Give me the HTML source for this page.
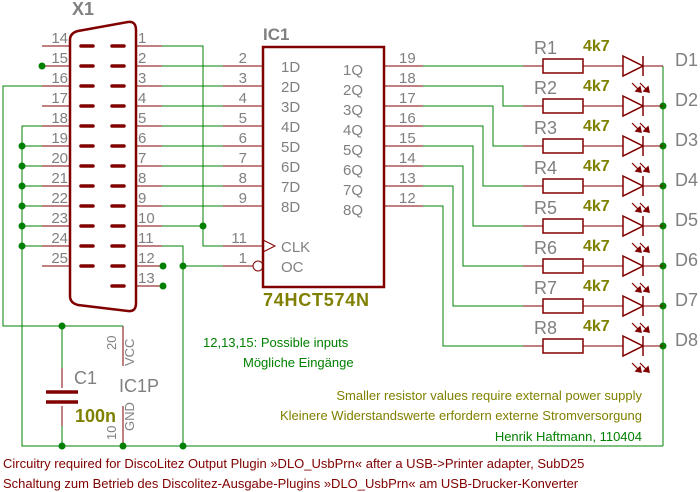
<!DOCTYPE html>
<html><head><meta charset="utf-8"><style>
html,body{margin:0;padding:0;background:#fff}
svg{display:block}
text{font-family:"Liberation Sans",sans-serif}
</style></head><body>
<svg width="700" height="492" viewBox="0 0 700 492" xmlns="http://www.w3.org/2000/svg">
<g fill="none" stroke-width="1.3">
<path d="M70,40 Q70,33 78,31 L128,22 Q136,21 136,30 L136,303 Q136,312 128,311 L78,305 Q70,303 70,296 Z" stroke="#800000" stroke-width="2.5"/>
</g>
<g stroke="#800000" stroke-width="3.5" stroke-linecap="round">
<path d="M81,46h12M81,66h12M81,86h12M81,106h12M81,126h12M81,146h12M81,166h12M81,186h12M81,206h12M81,226h12M81,246h12M81,266h12"/>
<path d="M112,46h12M112,66h12M112,86h12M112,106h12M112,126h12M112,146h12M112,166h12M112,186h12M112,206h12M112,226h12M112,246h12M112,266h12M112,286h12"/>
</g>
<g stroke="#800000" stroke-width="1" fill="none">
<path d="M42,46h28M42,66h28M42,86h28M42,106h28M42,126h28M42,146h28M42,166h28M42,186h28M42,206h28M42,226h28M42,246h28M42,266h28"/>
<path d="M136,46h26M136,66h26M136,86h26M136,106h26M136,126h26M136,146h26M136,166h26M136,186h26M136,206h26M136,226h26M136,246h26M136,266h26M136,286h26"/>
<path d="M223,66h40M223,86h40M223,106h40M223,126h40M223,146h40M223,166h40M223,186h40M223,206h40M223,246h40M223,266h30"/>
<circle cx="258" cy="266" r="5"/>
<path d="M263,240l12,6l-12,6"/>
<rect x="263" y="47" width="121" height="240" stroke-width="2.5"/>
<path d="M384,66h39M384,86h39M384,106h39M384,126h39M384,146h39M384,166h39M384,186h39M384,206h39"/>
<path d="M123,326v40M123,406v40"/>
<path d="M62,368v20M62,406v20"/>
</g>
<g stroke="#800000" stroke-width="3.5"><path d="M46,392h32M46,402h32"/></g>
<g stroke="#008000" stroke-width="1" fill="none">
<path d="M162,46h41v200h20"/>
<path d="M162,66h61M162,86h61M162,106h61M162,126h61M162,146h61M162,166h61M162,186h61M162,206h61M162,226h41"/>
<path d="M162,246h21v200"/>
<path d="M183,266h40"/>
<path d="M42,86h-39v240h120"/>
<path d="M42,126h-20v320h641"/>
<path d="M22,146h20M22,166h20M22,186h20M22,206h20M22,226h20M22,246h20"/>
<path d="M62,326v42M62,426v20"/>
<path d="M423,66h100"/>
<path d="M423,86h80v20h20"/>
<path d="M423,106h70v40h30"/>
<path d="M423,126h60v60h40"/>
<path d="M423,146h50v80h50"/>
<path d="M423,166h40v100h60"/>
<path d="M423,186h30v120h70"/>
<path d="M423,206h20v140h80"/>
<path d="M663,66v380"/>
</g>
<g fill="#008000">
<circle cx="42" cy="66" r="3.5"/><circle cx="203" cy="226" r="3.5"/>
<circle cx="163" cy="266" r="3.5"/><circle cx="163" cy="286" r="3.5"/><circle cx="183" cy="266" r="3.5"/>
<circle cx="22" cy="146" r="3.5"/><circle cx="22" cy="166" r="3.5"/><circle cx="22" cy="186" r="3.5"/><circle cx="22" cy="206" r="3.5"/><circle cx="22" cy="226" r="3.5"/><circle cx="22" cy="246" r="3.5"/>
<circle cx="62" cy="326" r="3.5"/><circle cx="62" cy="446" r="3.5"/><circle cx="123" cy="446" r="3.5"/><circle cx="183" cy="446" r="3.5"/>
<circle cx="663" cy="106" r="3.5"/><circle cx="663" cy="146" r="3.5"/><circle cx="663" cy="186" r="3.5"/><circle cx="663" cy="226" r="3.5"/><circle cx="663" cy="266" r="3.5"/><circle cx="663" cy="306" r="3.5"/><circle cx="663" cy="346" r="3.5"/>
</g>
<defs>
<g id="rl">
<path d="M523,0h20M583,0h40M643,0h20" stroke="#800000" stroke-width="1" fill="none"/>
<rect x="543" y="-7" width="40" height="14" stroke="#800000" stroke-width="1.5" fill="none"/>
<path d="M623,-10L643,0L623,10Z M643,-10v20" stroke="#800000" stroke-width="1.5" fill="none"/>
<path d="M632,17l8,8M640,17l8,8" stroke="#800000" stroke-width="1.2"/>
<path d="M641,26l-5,-1l4,-4zM649,26l-5,-1l4,-4z" fill="#800000" stroke="#800000" stroke-width="1.5"/>
</g>
</defs>
<use href="#rl" y="66"/><use href="#rl" y="106"/><use href="#rl" y="146"/><use href="#rl" y="186"/>
<use href="#rl" y="226"/><use href="#rl" y="266"/><use href="#rl" y="306"/><use href="#rl" y="346"/>
<g fill="#808080" font-size="15">
<text x="72" y="15" font-size="18" font-weight="bold">X1</text>
<g text-anchor="end">
<text x="68" y="43">14</text><text x="68" y="63">15</text><text x="68" y="83">16</text><text x="68" y="103">17</text><text x="68" y="123">18</text><text x="68" y="143">19</text><text x="68" y="163">20</text><text x="68" y="183">21</text><text x="68" y="203">22</text><text x="68" y="223">23</text><text x="68" y="243">24</text><text x="68" y="263">25</text>
<text x="247" y="63">2</text><text x="247" y="83">3</text><text x="247" y="103">4</text><text x="247" y="123">5</text><text x="247" y="143">6</text><text x="247" y="163">7</text><text x="247" y="183">8</text><text x="247" y="203">9</text><text x="247" y="243">11</text><text x="247" y="263">1</text>
</g>
<text x="138" y="43">1</text><text x="138" y="63">2</text><text x="138" y="83">3</text><text x="138" y="103">4</text><text x="138" y="123">5</text><text x="138" y="143">6</text><text x="138" y="163">7</text><text x="138" y="183">8</text><text x="138" y="203">9</text><text x="138" y="223">10</text><text x="138" y="243">11</text><text x="138" y="263">12</text><text x="138" y="283">13</text>
<text x="263" y="40" font-size="17" font-weight="bold">IC1</text>
<text x="281" y="72">1D</text><text x="281" y="92">2D</text><text x="281" y="112">3D</text><text x="281" y="132">4D</text><text x="281" y="152">5D</text><text x="281" y="172">6D</text><text x="281" y="192">7D</text><text x="281" y="212">8D</text>
<text x="343" y="75">1Q</text><text x="343" y="95">2Q</text><text x="343" y="115">3Q</text><text x="343" y="135">4Q</text><text x="343" y="155">5Q</text><text x="343" y="175">6Q</text><text x="343" y="195">7Q</text><text x="343" y="215">8Q</text>
<text x="281" y="252">CLK</text><text x="281" y="272">OC</text>
<text x="399" y="63">19</text><text x="399" y="83">18</text><text x="399" y="103">17</text><text x="399" y="123">16</text><text x="399" y="143">15</text><text x="399" y="163">14</text><text x="399" y="183">13</text><text x="399" y="203">12</text>
<g font-size="18">
<text x="534" y="54">R1</text><text x="534" y="94">R2</text><text x="534" y="134">R3</text><text x="534" y="174">R4</text><text x="534" y="214">R5</text><text x="534" y="254">R6</text><text x="534" y="294">R7</text><text x="534" y="334">R8</text>
<text x="675" y="66">D1</text><text x="675" y="106">D2</text><text x="675" y="146">D3</text><text x="675" y="186">D4</text><text x="675" y="226">D5</text><text x="675" y="266">D6</text><text x="675" y="306">D7</text><text x="675" y="346">D8</text>
<text x="74" y="384">C1</text>
<text x="119" y="392">IC1P</text>
</g>
<g font-size="13">
<text transform="translate(116,350) rotate(-90)">20</text>
<text transform="translate(134,366) rotate(-90)">VCC</text>
<text transform="translate(116,440) rotate(-90)">10</text>
<text transform="translate(134,431) rotate(-90)">GND</text>
</g>
</g>
<g fill="#808000" font-size="16" font-weight="bold">
<text x="583" y="51">4k7</text><text x="583" y="91">4k7</text><text x="583" y="131">4k7</text><text x="583" y="171">4k7</text><text x="583" y="211">4k7</text><text x="583" y="251">4k7</text><text x="583" y="291">4k7</text><text x="583" y="331">4k7</text>
<text x="263" y="306" font-size="18" textLength="106">74HCT574N</text>
<text x="75" y="422" font-size="18">100n</text>
</g>
<g font-size="13">
<text x="203" y="347" fill="#008000">12,13,15: Possible inputs</text>
<text x="243" y="367" fill="#008000">Mögliche Eingänge</text>
<g text-anchor="end">
<text x="642" y="400" fill="#808000">Smaller resistor values require external power supply</text>
<text x="642" y="420" fill="#808000">Kleinere Widerstandswerte erfordern externe Stromversorgung</text>
<text x="642" y="441" fill="#008000">Henrik Haftmann, 110404</text>
</g>
<text x="3" y="468" fill="#800000">Circuitry required for DiscoLitez Output Plugin »DLO_UsbPrn« after a USB-&gt;Printer adapter, SubD25</text>
<text x="3" y="488" fill="#800000">Schaltung zum Betrieb des Discolitez-Ausgabe-Plugins »DLO_UsbPrn« am USB-Drucker-Konverter</text>
</g>
</svg>
</body></html>
